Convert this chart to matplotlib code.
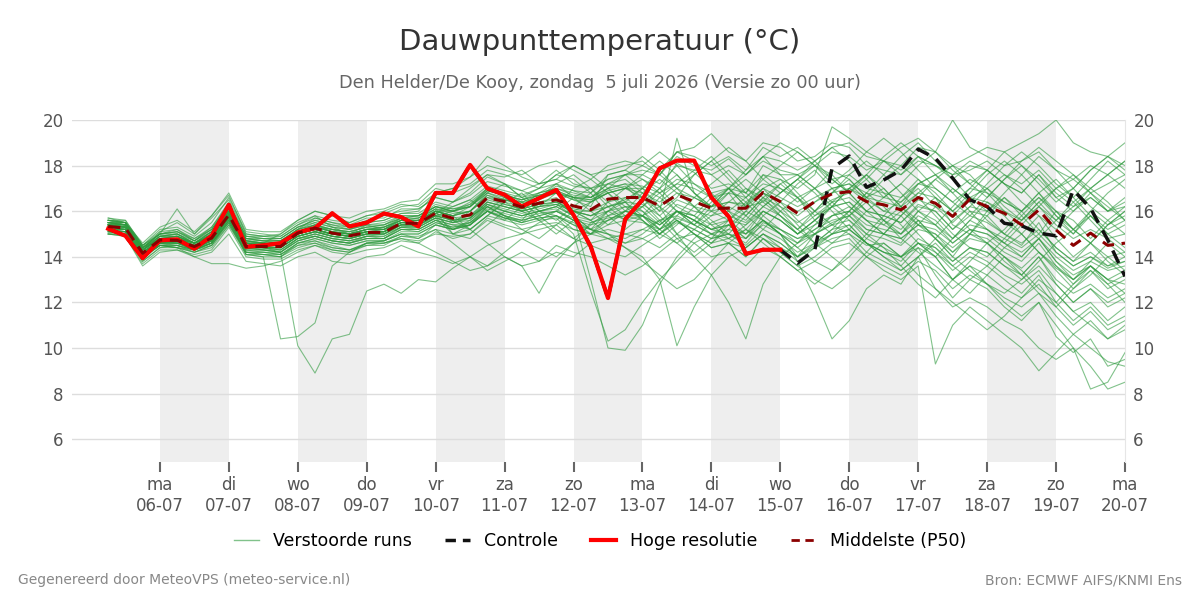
import matplotlib
matplotlib.use('Agg')
import matplotlib.pyplot as plt
import numpy as np
import pandas as pd
from matplotlib.lines import Line2D

# 6-hourly steps, first value 05-07 06:00
times = pd.date_range('2026-07-05 06:00', periods=60, freq='6h')

# Hoge resolutie (ends 15-07 00:00)
hres = [15.23, 14.92, 13.94, 14.72, 14.77, 14.35, 14.92, 16.28, 14.44, 14.50,
        14.60, 15.07, 15.26, 15.91, 15.33, 15.50, 15.90, 15.74, 15.33, 16.80,
        16.80, 18.03, 17.00, 16.72, 16.20, 16.57, 16.93, 15.84, 14.45, 12.19,
        15.65, 16.50, 17.88, 18.22, 18.22, 16.60, 15.77, 14.13, 14.31, 14.31]

# Controle: same as hres up to 15-07, then its own tail
control_tail = [13.72, 14.30, 17.88, 18.42, 17.05, 17.37, 17.80, 18.72, 18.32, 17.45,
                16.50, 16.20, 15.47, 15.36, 15.04, 14.92, 16.93, 16.13, 14.74, 13.14]

# Middelste (P50)
median = [15.33, 15.26, 14.16, 14.74, 14.72, 14.45, 14.82, 15.84, 14.45, 14.45,
          14.45, 15.04, 15.26, 15.04, 14.92, 15.07, 15.07, 15.47, 15.47, 15.91,
          15.69, 15.84, 16.60, 16.42, 16.18, 16.35, 16.50, 16.23, 16.06, 16.53,
          16.60, 16.60, 16.23, 16.72, 16.42, 16.13, 16.13, 16.13, 16.82, 16.42,
          15.91, 16.42, 16.76, 16.86, 16.42, 16.28, 16.06, 16.60, 16.35, 15.77,
          16.53, 16.20, 15.91, 15.40, 16.06, 15.18, 14.50, 15.04, 14.50, 14.60]

# Verstoorde runs, values in tenths of a degree
members_raw = [
    "156 155 145 150 152 147 153 164 149 148 | 147 152 157 155 153 156 158 160 161 166 | 164 168 175 172 169 166 171 169 166 172 | 174 168 160 166 176 182 174 166 158 164 | 172 178 170 162 156 150 158 166 174 168 | 160 152 146 154 162 170 176 168 160 166",
    "151 150 138 144 145 142 145 155 141 140 | 140 144 146 143 142 145 146 148 147 150 | 149 150 156 153 150 152 154 148 145 142 | 140 145 150 155 152 148 150 146 155 152 | 148 150 155 158 150 148 145 152 150 142 | 148 146 140 135 142 135 130 136 130 128",
    "154 153 141 148 149 146 150 161 147 146 | 150 156 160 158 155 158 160 163 162 168 | 170 172 178 176 173 170 176 174 168 176 | 178 174 170 181 177 170 172 168 180 176 | 176 170 164 158 166 174 180 174 166 160 | 168 176 182 176 168 160 152 160 168 174",
    "152 152 140 146 146 143 147 157 144 143 | 142 148 149 147 146 149 148 153 152 156 | 152 154 162 158 155 160 158 152 150 156 | 160 158 152 160 156 150 154 148 158 152 | 146 152 158 160 152 150 146 156 148 140 | 150 146 138 132 140 128 120 126 118 122",
    "153 152 142 146 147 144 146 157 141 140 | 104 105 111 136 142 146 147 150 150 154 | 152 155 160 158 156 158 160 156 150 158 | 162 162 155 163 160 158 160 156 165 160 | 155 160 165 168 160 158 155 163 160 152 | 160 158 150 145 155 142 136 140 135 138",
    "154 153 143 148 147 145 149 158 146 144 | 142 101 89 104 106 125 128 124 130 129 | 135 140 145 148 150 155 158 154 152 160 | 164 163 158 165 162 160 162 158 166 162 | 158 164 170 172 165 160 158 165 162 155 | 162 160 155 150 158 148 140 146 140 142",
    "157 156 145 152 153 149 155 166 151 150 | 149 154 158 156 155 158 159 162 163 170 | 168 171 176 175 178 172 174 180 176 178 | 180 182 176 184 180 178 183 176 182 178 | 176 180 186 184 178 182 176 184 180 176 | 178 182 176 172 178 170 174 168 172 176",
    "150 149 136 142 143 140 142 150 138 137 | 136 140 142 138 137 140 141 145 142 140 | 137 140 134 138 142 138 145 142 140 136 | 132 136 142 148 150 144 146 140 148 144 | 140 145 150 154 146 142 140 148 144 136 | 142 138 132 128 134 124 116 120 112 118",
    "155 154 144 149 150 146 151 162 148 147 | 147 151 154 152 151 153 154 157 158 162 | 160 162 168 165 164 167 168 166 164 168 | 170 176 182 176 168 162 170 178 184 176 | 168 160 154 160 168 176 184 190 182 174 | 166 160 168 176 184 178 170 162 156 162",
    "152 152 141 146 147 144 147 158 144 144 | 143 148 150 148 147 149 150 153 154 157 | 150 154 160 166 162 156 160 166 170 164 | 158 162 170 176 168 160 156 162 170 174 | 166 158 162 170 176 168 160 154 162 170 | 164 156 150 158 166 160 152 146 154 160",
    "156 154 143 151 155 150 157 165 150 149 | 150 155 158 153 150 154 152 157 154 160 | 158 162 170 168 164 162 168 160 156 164 | 170 166 160 192 168 162 170 162 176 170 | 164 170 178 174 166 170 162 172 176 168 | 174 170 164 160 168 158 150 160 154 158",
    "151 151 140 145 144 142 144 154 142 141 | 141 146 147 145 143 146 146 149 149 152 | 150 152 158 156 154 156 157 150 125 103 | 108 120 130 138 146 150 148 152 160 156 | 150 156 162 164 158 156 152 160 156 148 | 156 152 146 140 148 138 130 136 128 132",
    "154 154 143 149 149 146 150 160 147 146 | 146 151 153 151 150 152 152 156 156 160 | 158 160 167 165 163 165 168 165 162 176 | 178 184 178 170 176 182 188 182 174 168 | 174 182 188 182 174 166 172 180 186 180 | 172 178 186 180 172 164 170 178 184 190",
    "153 152 141 147 146 145 147 158 145 145 | 144 149 151 149 148 150 150 154 154 158 | 156 157 164 162 160 162 163 158 152 148 | 146 150 156 158 154 150 146 144 150 146 | 140 144 150 152 146 140 136 144 140 130 | 136 132 126 122 128 118 110 116 108 112",
    "155 155 144 148 148 146 149 160 146 146 | 146 152 154 152 151 153 153 157 157 162 | 160 163 170 168 166 168 170 167 166 170 | 172 166 158 150 156 164 170 164 156 150 | 146 154 162 170 176 170 162 154 148 142 | 150 158 166 160 152 144 138 146 154 160",
    "150 150 139 145 146 143 146 156 143 143 | 142 147 149 147 146 148 148 152 152 156 | 154 155 162 160 158 160 162 158 156 160 | 162 160 154 160 156 152 150 148 154 150 | 138 122 104 112 126 132 128 140 146 138 | 144 142 136 130 136 128 120 126 120 124",
    "154 153 142 147 148 145 148 158 145 144 | 144 149 151 149 148 150 151 154 155 159 | 162 165 160 156 162 168 172 166 160 154 | 160 168 174 168 162 156 150 158 166 172 | 176 170 162 156 150 158 166 174 168 160 | 152 146 152 160 168 174 166 158 150 144",
    "157 155 146 153 156 151 158 168 152 151 | 151 156 160 158 157 160 161 164 165 172 | 172 175 180 178 176 180 182 178 174 180 | 182 180 176 186 184 180 184 178 188 184 | 188 182 174 168 176 184 190 184 176 170 | 164 172 180 186 180 172 166 174 182 176",
    "152 151 140 145 144 143 145 156 142 142 | 141 145 147 144 143 146 146 148 146 151 | 148 150 157 154 152 154 155 152 150 152 | 150 152 150 156 152 148 150 145 152 148 | 142 146 152 154 146 142 138 146 142 134 | 140 136 130 124 132 120 112 118 110 114",
    "155 154 143 149 150 146 151 161 147 146 | 146 151 154 151 150 152 153 156 157 161 | 155 160 168 172 166 160 162 170 174 168 | 162 156 150 158 166 172 178 170 164 158 | 152 160 168 176 182 176 168 160 154 162 | 170 178 172 164 158 152 160 168 162 156",
    "153 153 142 147 146 145 148 159 145 144 | 144 149 151 150 149 150 151 155 154 158 | 156 157 163 160 158 160 162 158 152 150 | 148 152 156 160 156 152 154 148 156 150 | 140 150 154 150 145 146 140 144 132 122 | 130 126 118 112 120 105 98 104 92 95",
    "151 150 139 146 145 143 146 155 142 141 | 140 146 148 146 145 147 147 150 150 154 | 152 154 160 157 156 158 160 156 154 156 | 158 156 150 156 150 146 148 144 150 144 | 138 144 148 150 142 138 134 140 126 118 | 122 118 112 108 100 95 100 92 82 85",
    "156 155 144 150 151 147 152 163 148 148 | 148 153 156 154 152 155 156 159 159 164 | 162 165 171 169 167 170 172 169 168 174 | 176 176 172 180 178 176 180 176 184 182 | 178 182 188 190 184 182 180 188 186 200 | 188 184 180 182 186 178 174 180 176 182",
    "154 154 143 148 149 145 150 160 146 146 | 145 150 153 151 150 152 152 155 156 160 | 158 152 158 164 160 156 150 156 164 170 | 176 170 162 156 150 146 152 160 168 164 | 156 150 146 152 160 166 172 166 158 150 | 144 140 148 156 164 170 164 156 148 142",
    "152 151 141 146 146 144 147 157 144 144 | 143 148 150 148 147 149 149 153 153 157 | 155 156 163 161 159 161 163 160 158 162 | 164 158 150 146 152 158 164 170 166 158 | 150 156 164 170 164 156 148 142 136 130 | 124 132 140 134 126 120 128 136 130 124",
    "155 154 143 148 148 146 149 160 146 146 | 146 151 153 151 150 152 152 156 156 160 | 158 160 167 164 162 164 165 158 130 100 | 99 110 128 140 148 155 158 155 162 158 | 152 158 164 166 160 158 155 162 160 152 | 158 155 150 146 152 144 138 142 136 140",
    "153 152 142 147 148 145 148 158 145 145 | 145 150 152 150 149 151 151 155 155 159 | 157 158 165 163 161 163 164 160 158 160 | 156 158 162 150 140 132 120 104 128 140 | 146 150 158 162 156 150 148 154 150 144 | 150 148 142 138 146 136 128 134 126 130",
    "154 153 142 148 149 146 149 159 146 145 | 145 150 152 150 149 151 152 155 156 160 | 158 160 166 165 163 166 168 166 166 172 | 176 178 176 186 188 194 186 182 190 188 | 182 184 190 188 180 178 176 182 180 174 | 180 178 172 168 176 166 160 166 160 162",
    "150 149 137 143 143 141 143 153 140 139 | 139 143 145 142 141 143 144 147 146 142 | 138 134 136 140 136 138 142 140 146 148 | 150 148 144 150 146 140 142 136 144 140 | 134 138 144 146 140 136 132 138 134 126 | 132 128 122 118 124 114 106 112 104 108",
    "156 156 145 151 152 148 153 163 149 149 | 149 154 157 155 154 157 157 161 161 166 | 164 167 173 171 169 172 174 171 170 174 | 176 180 186 180 172 166 160 166 174 180 | 186 180 172 178 186 192 186 178 170 164 | 158 166 174 180 174 166 170 178 184 178",
    "152 151 140 145 144 140 137 137 135 136 | 138 142 145 143 142 146 147 150 148 154 | 152 154 160 157 155 157 158 155 152 156 | 160 158 152 160 158 152 156 150 160 156 | 150 156 162 164 156 154 150 158 154 146 | 152 150 144 140 148 138 132 136 130 134",
    "155 154 144 150 161 150 158 167 150 149 | 148 153 155 153 152 154 154 158 158 162 | 160 162 168 166 164 166 168 165 164 168 | 170 170 166 172 170 166 168 166 172 170 | 166 170 174 176 170 168 166 172 170 164 | 170 168 164 160 166 158 152 158 152 156",
    "153 153 142 147 147 145 148 158 145 145 | 145 150 152 150 149 151 151 154 155 158 | 160 158 162 158 156 164 166 160 164 168 | 160 164 170 162 158 166 170 162 164 172 | 166 160 168 174 166 160 164 170 162 158 | 166 170 162 156 164 156 150 158 150 154",
    "154 153 143 148 148 146 149 159 146 145 | 145 150 152 150 149 151 151 155 155 159 | 156 152 158 164 168 160 156 162 168 158 | 152 158 166 160 154 162 168 158 152 160 | 166 156 150 158 164 156 150 160 166 154 | 150 160 166 158 150 160 156 148 156 150",
    "155 154 143 149 149 146 150 161 147 146 | 146 151 153 151 150 152 153 156 157 161 | 160 162 169 167 165 168 170 168 166 170 | 172 171 168 174 172 168 170 168 176 174 | 170 176 197 192 186 182 178 184 180 176 | 182 178 172 168 176 168 162 166 160 164",
    "151 151 140 145 145 143 146 156 143 143 | 142 147 149 147 146 148 148 152 152 156 | 154 152 146 140 136 124 138 146 155 157 | 158 158 154 160 158 154 156 154 160 156 | 150 154 158 160 154 152 150 156 154 148 | 154 152 148 144 150 142 136 140 136 138",
    "156 155 144 150 151 147 152 162 148 147 | 147 152 155 153 152 154 155 158 158 163 | 161 163 169 167 165 167 169 166 165 169 | 171 164 156 148 142 148 156 164 170 162 | 154 146 140 134 142 150 158 150 142 136 | 130 136 144 150 142 134 126 132 140 134",
    "153 152 141 147 147 144 147 157 144 144 | 144 149 151 149 148 150 150 154 153 157 | 155 157 163 160 158 160 161 156 152 150 | 146 148 152 156 150 144 146 140 148 142 | 136 140 146 148 140 134 130 136 93 110 | 118 112 106 100 90 98 106 100 94 92",
    "154 154 143 148 149 146 149 160 146 146 | 145 150 152 150 150 151 152 155 156 160 | 160 164 170 166 160 166 172 176 170 162 | 156 162 168 172 178 184 176 168 162 168 | 174 180 176 168 160 154 160 168 174 180 | 176 168 160 154 148 156 164 170 176 170",
    "152 152 141 146 147 144 147 158 144 144 | 144 149 151 149 148 150 150 154 154 158 | 156 158 164 162 160 162 164 161 160 164 | 166 166 162 168 166 162 164 163 170 166 | 162 166 170 172 168 166 164 172 176 180 | 184 188 186 190 194 200 190 186 184 180",
    "155 153 144 149 150 146 151 162 147 147 | 146 151 153 152 150 152 153 156 156 161 | 159 160 166 163 161 163 164 160 160 162 | 164 156 148 154 162 168 160 152 146 140 | 134 128 134 142 150 144 136 128 122 130 | 138 146 140 132 124 118 126 134 128 120",
    "153 153 142 146 146 144 147 157 144 143 | 143 148 150 148 147 149 149 153 153 157 | 155 157 164 162 160 162 163 160 158 162 | 165 170 176 170 162 154 148 154 162 168 | 174 168 160 152 146 140 134 140 148 156 | 162 170 176 170 162 156 162 170 164 156",
    "156 155 145 150 151 148 152 163 149 148 | 148 153 156 154 153 155 156 159 160 168 | 170 175 184 180 175 172 178 172 170 172 | 170 168 164 170 166 162 164 162 168 164 | 160 164 168 170 166 164 162 168 166 160 | 166 164 160 156 162 154 148 152 148 150",
    "150 150 138 144 144 142 145 154 141 141 | 140 145 146 144 143 145 145 149 148 152 | 146 140 136 142 148 144 140 146 150 154 | 156 155 152 157 154 150 152 150 156 152 | 148 152 156 158 152 150 148 154 152 146 | 152 150 146 142 148 140 134 138 134 136",
    "154 154 143 148 148 146 149 159 146 145 | 145 150 152 150 149 151 151 155 155 160 | 150 148 154 160 164 158 152 148 154 160 | 166 160 152 146 140 146 154 160 156 150 | 144 138 134 140 148 156 162 156 148 140 | 134 128 124 130 138 146 152 146 138 132",
    "155 155 144 150 150 147 151 161 148 147 | 147 152 154 152 151 153 154 157 158 162 | 161 162 169 167 165 167 169 166 165 168 | 170 174 168 160 154 160 168 174 168 160 | 152 146 152 160 168 162 154 146 140 148 | 156 164 158 150 142 136 130 138 146 140",
    "152 151 140 146 146 143 146 156 143 142 | 142 147 149 147 146 148 148 152 151 155 | 153 154 160 157 155 157 158 154 150 148 | 144 140 130 101 118 132 140 144 150 146 | 140 146 150 152 146 142 140 146 144 138 | 144 142 136 132 140 130 124 128 122 126",
    "154 153 142 148 148 145 148 159 145 145 | 145 150 152 150 149 151 151 155 155 159 | 164 170 176 172 166 170 176 180 176 170 | 164 170 178 186 182 176 170 176 184 190 | 186 180 174 168 174 182 188 192 186 178 | 172 166 174 182 188 182 176 170 176 182",
    "153 152 141 146 147 144 147 158 144 144 | 144 149 151 149 148 150 150 154 154 158 | 152 156 162 158 152 148 154 160 156 150 | 144 138 132 126 130 138 146 152 148 142 | 136 130 126 132 140 146 140 132 126 120 | 114 108 114 122 130 124 116 110 104 110",
    "151 151 140 145 145 143 146 155 142 142 | 141 146 148 146 145 147 147 151 151 155 | 153 155 161 159 157 159 160 157 155 158 | 160 158 154 160 156 152 154 150 156 150 | 144 150 154 156 148 144 140 146 140 130 | 136 128 120 114 120 110 100 82 85 98",
]

day_names = ['ma', 'di', 'wo', 'do', 'vr', 'za', 'zo']

members = [np.array(s.replace('|', ' ').split(), dtype=float) / 10 for s in members_raw]
control = hres + control_tail

fig = plt.figure(figsize=(12, 6), dpi=100)
ax = fig.add_axes([0.06, 0.23, 0.8775, 0.57])

# alternating day columns
days = pd.date_range('2026-07-06', '2026-07-20', freq='D')
for d in days[::2][:-1]:
    ax.axvspan(d, d + pd.Timedelta(days=1), color='#eeeeee', zorder=0, lw=0)

for m in members:
    ax.plot(times, m, color='#2e9a3e', lw=0.8, alpha=0.6, zorder=2)
ax.plot(times, control, color='#111111', lw=2.5, ls=(0, (4, 2.5)), zorder=3)
ax.plot(times[:len(hres)], hres, color='#ff0000', lw=3, zorder=4)
ax.plot(times, median, color='#8b0000', lw=2.2, ls=(0, (4, 2.5)), zorder=5)

ax.set_xlim(times[0] - pd.Timedelta(hours=12.6), days[-1])
ax.set_ylim(5, 20)
ax.set_yticks(range(6, 21, 2))
ax.set_xticks(days)
ax.set_xticklabels([f"{day_names[d.weekday()]}\n{d:%d-%m}" for d in days])
ax.grid(axis='y', color='#dddddd', lw=1)
ax.set_axisbelow(True)
for s in ['top', 'left', 'bottom']:
    ax.spines[s].set_visible(False)
ax.spines['right'].set_color('#e6e6e6')
ax.tick_params(axis='x', colors='#555555', labelsize=12, length=7, width=1.5, pad=3)
ax.tick_params(axis='x', color='#666666')
ax.tick_params(axis='y', colors='#555555', labelsize=12, length=0, pad=6)

ax2 = ax.twinx()
ax2.set_ylim(5, 20)
ax2.set_yticks(range(6, 21, 2))
for s in ax2.spines.values():
    s.set_visible(False)
ax2.tick_params(axis='y', colors='#555555', labelsize=12, length=0, pad=6)

fig.text(0.5, 1 - 42 / 600, 'Dauwpunttemperatuur (°C)', ha='center', va='center',
         fontsize=21, color='#333333')
fig.text(0.5, 1 - 83 / 600, 'Den Helder/De Kooy, zondag  5 juli 2026 (Versie zo 00 uur)',
         ha='center', va='center', fontsize=12.7, color='#666666')

handles = [
    Line2D([], [], color='#2e9a3e', lw=1, alpha=0.6),
    Line2D([], [], color='#111111', lw=2.5, ls=(0, (3, 2))),
    Line2D([], [], color='#ff0000', lw=3),
    Line2D([], [], color='#8b0000', lw=2, ls=(0, (3, 2))),
]
fig.legend(handles, ['Verstoorde runs', 'Controle', 'Hoge resolutie', 'Middelste (P50)'],
           loc='center', bbox_to_anchor=(0.5, 1 - 541 / 600), ncol=4, frameon=False,
           fontsize=12.5, handlelength=1.45, columnspacing=1.9)

fig.text(18 / 1200, 1 - 580 / 600, 'Gegenereerd door MeteoVPS (meteo-service.nl)',
         ha='left', va='center', fontsize=10, color='#888888')
fig.text(1182 / 1200, 1 - 580 / 600, 'Bron: ECMWF AIFS/KNMI Ens',
         ha='right', va='center', fontsize=10, color='#888888')

fig.savefig('out.png', dpi=100)
